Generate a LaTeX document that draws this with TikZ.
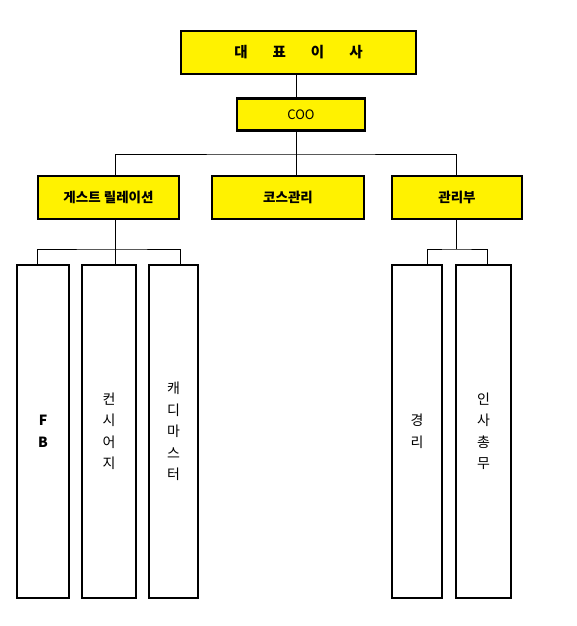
\documentclass[tikz,border=0pt]{standalone}
\usepackage{fontspec}
\setmainfont{Noto Sans CJK KR}
\usepackage{tikz}
\usetikzlibrary{positioning}
\tikzset{
	x=1pt, y=-1pt,
	headbox/.style={draw=black, fill=yellow, line width=2.4pt, inner sep=0pt, font=\fontsize{13.5}{15}\selectfont\bfseries},
	teambox/.style={draw=black, fill=white, line width=2.4pt, inner sep=0pt, minimum height=333pt, align=center, font=\fontsize{14}{21.5}\selectfont},
	link/.style={draw=black, line width=0.8pt}
}
\begin{document}
\begin{tikzpicture}
	\useasboundingbox (0,0) rectangle (576,626);
	%Nodes
	\node[headbox, minimum width=235pt, minimum height=43pt, font=\fontsize{14.5}{16}\selectfont\bfseries] (ceo) at (298.5,52.5) {대\hspace{25pt}표\hspace{25pt}이\hspace{25pt}사};
	\node[headbox, minimum width=128pt, minimum height=32pt, font=\fontsize{13}{15}\selectfont] (coo) at (301,114.5) {COO};
	\node[headbox, minimum width=141pt, minimum height=43pt] (guest)  at (108.5,197.5) {게스트 릴레이션};
	\node[headbox, minimum width=152pt, minimum height=43pt] (course) at (288,197.5) {코스관리};
	\node[headbox, minimum width=130pt, minimum height=43pt] (admin)  at (457,197.5) {관리부};

	\node[teambox, minimum width=52pt, font=\fontsize{14}{21.5}\selectfont\bfseries] (fb) at (43,431.5) {F\\B};
	\node[teambox, minimum width=54pt] (concierge) at (109,431.5) {컨\\시\\어\\지};
	\node[teambox, minimum width=49pt] (caddie)    at (173.5,431.5) {캐\\디\\마\\스\\터};
	\node[teambox, minimum width=50pt] (account)   at (417,431.5) {경\\리};
	\node[teambox, minimum width=55pt] (hr)        at (483.5,431.5) {인\\사\\총\\무};

	\coordinate (trunk)    at (296,154);
	\coordinate (guestbus) at (115,249);
	\coordinate (adminbus) at (456,249);

	%Lines
	\draw[link] (ceo.south -| trunk) -- (coo.north -| trunk);
	\draw[link] (coo.south -| trunk) -- (course.north -| trunk);
	\draw[link] (guest.north -| guestbus) |- (trunk) -| (admin.north -| adminbus);

	\draw[link] (guest.south -| guestbus) -- (concierge.north -| guestbus);
	\draw[link] ([xshift=-5.5pt]fb.north) |- (guestbus) -| ([xshift=7pt]caddie.north);

	\draw[link] (admin.south -| adminbus) -- (adminbus);
	\draw[link] ([xshift=10pt]account.north) |- (adminbus) -| ([xshift=3.5pt]hr.north);
\end{tikzpicture}
\end{document}
